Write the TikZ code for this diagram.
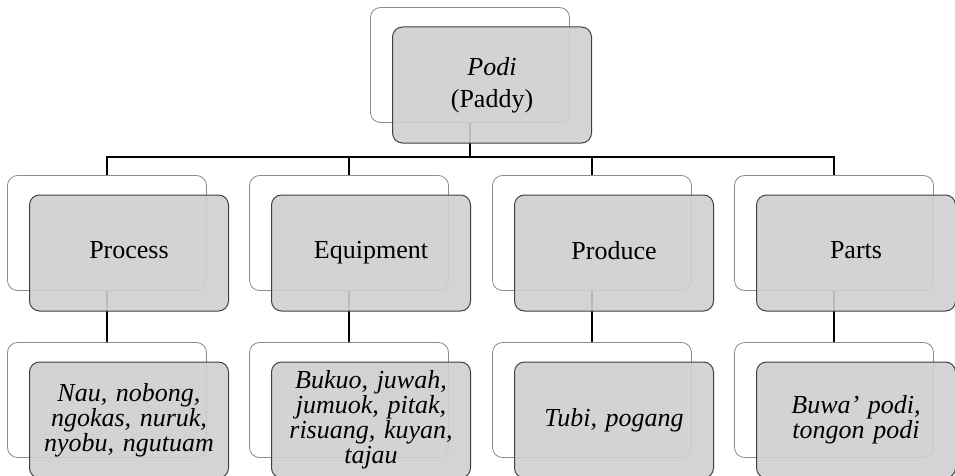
\documentclass[tikz,border=0pt]{standalone}
\usepackage{fontspec}
\setmainfont{Liberation Serif}
\begin{document}
\begin{tikzpicture}[x=1pt,y=-1pt,
  backbox/.style={draw=black!45, line width=0.8pt, fill=white, rounded corners=10pt,
    minimum width=199pt, minimum height=115pt, inner sep=0pt},
  frontbox/.style={draw=black!75, line width=1pt, fill=black!19, fill opacity=0.9,
    text opacity=1, rounded corners=10pt, minimum width=199pt, minimum height=116pt,
    align=center, text width=190pt, inner sep=0pt,
    font=\fontsize{26}{25}\selectfont},
  listbox/.style={frontbox, font=\fontsize{26}{25}\selectfont\itshape},
  link/.style={draw=black, line width=1.5pt}]
\useasboundingbox (0,0) rectangle (955,476);
% back boxes
\node[backbox] (topb) at (470,65) {};
\node[backbox] (b1) at (107,233) {};
\node[backbox] (b2) at (349,233) {};
\node[backbox] (b3) at (592,233) {};
\node[backbox] (b4) at (834,233) {};
\node[backbox] (c1) at (107,400) {};
\node[backbox] (c2) at (349,400) {};
\node[backbox] (c3) at (592,400) {};
\node[backbox] (c4) at (834,400) {};
% connectors
\coordinate (bus) at (470,157);
\draw[link] (topb.south) -- (bus) -| (b1.north);
\draw[link] (bus) -| (b2.north);
\draw[link] (bus) -| (b3.north);
\draw[link] (bus) -| (b4.north);
\draw[link] (b1.south) -- (c1.north);
\draw[link] (b2.south) -- (c2.north);
\draw[link] (b3.south) -- (c3.north);
\draw[link] (b4.south) -- (c4.north);
% front boxes
\node[frontbox] (topf) at (492,85) {{\itshape Podi}\\[7pt](Paddy)};
\node[frontbox] (f1) at (129,253) {Process\vphantom{Eqp}};
\node[frontbox] (f2) at (371,253) {Equipment\vphantom{Eqp}};
\node[frontbox] (f3) at (614,253) {Produce\vphantom{Eqp}};
\node[frontbox] (f4) at (856,253) {Parts\vphantom{Eqp}};
\node[listbox] (g1) at (129,420) {Nau, nobong,\\ngokas, nuruk,\\nyobu, ngutuam};
\node[listbox] (g2) at (371,420) {Bukuo, juwah,\\jumuok, pitak,\\risuang, kuyan,\\tajau};
\node[listbox] (g3) at (614,420) {Tubi, pogang\vphantom{Eqp}};
\node[listbox] (g4) at (856,420) {Buwa’ podi,\\tongon podi};
\end{tikzpicture}
\end{document}
